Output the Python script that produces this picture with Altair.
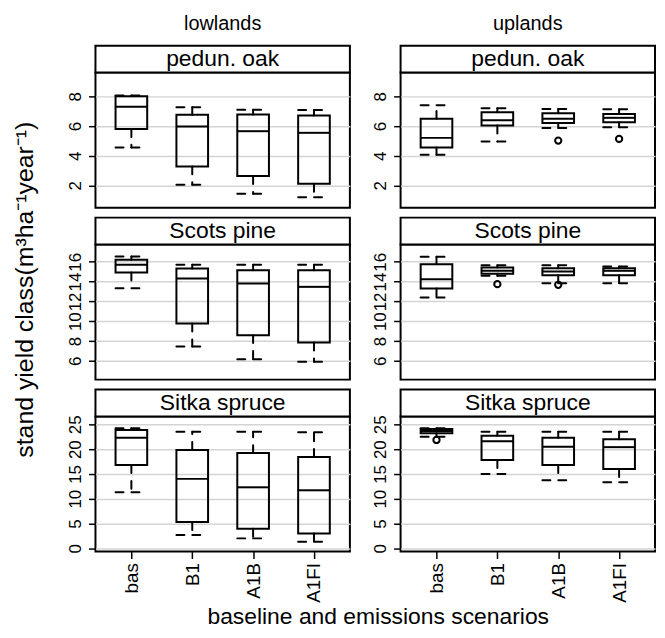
import altair as alt
import pandas as pd

FONT = "Liberation Sans"

scenarios = ["bas", "B1", "A1B", "A1FI"]
sites = ["lowlands", "uplands"]
species = ["pedun. oak", "Scots pine", "Sitka spruce"]

# [lower whisker, Q1, median, Q3, upper whisker] for bas, B1, A1B, A1FI
oak_lowlands = [[4.55, 5.8, 7.3, 8.0, 8.05], [2.05, 3.28, 5.96, 6.75, 7.26],
                [1.44, 2.63, 5.65, 6.77, 7.1], [1.2, 2.11, 5.54, 6.7, 7.08]]
oak_uplands = [[4.06, 4.55, 5.2, 6.48, 7.4], [4.95, 6.03, 6.38, 6.93, 7.2],
               [5.87, 6.2, 6.48, 6.86, 7.15], [5.92, 6.25, 6.55, 6.81, 7.12]]
pine_lowlands = [[13.33, 14.92, 15.7, 16.2, 16.54], [7.44, 9.77, 14.31, 15.32, 15.7],
                 [6.16, 8.59, 13.81, 15.15, 15.7], [5.9, 7.85, 13.47, 15.15, 15.7]]
pine_uplands = [[12.39, 13.3, 14.24, 15.76, 16.52], [14.59, 14.8, 15.09, 15.42, 15.66],
                [13.84, 14.65, 15.02, 15.35, 15.66], [13.84, 14.65, 15.09, 15.35, 15.52]]
spruce_lowlands = [[11.3, 16.8, 22.3, 23.85, 24.2], [2.7, 5.3, 14.0, 19.84, 23.5],
                   [2.0, 3.95, 12.3, 19.2, 23.5], [1.34, 3.0, 11.7, 18.4, 23.4]]
spruce_uplands = [[22.5, 23.2, 23.65, 24.05, 24.2], [15.0, 17.8, 21.6, 22.7, 23.5],
                  [13.7, 16.8, 20.5, 22.3, 23.5], [13.3, 16.0, 20.4, 22.0, 23.5]]

outlier_site = ["uplands", "uplands", "uplands", "uplands", "uplands"]
outlier_species = ["pedun. oak", "pedun. oak", "Scots pine", "Scots pine", "Sitka spruce"]
outlier_scenario = ["A1B", "A1FI", "B1", "A1B", "bas"]
outlier_value = [5.02, 5.13, 13.74, 13.68, 21.85]

y_domains = {"pedun. oak": [0.5, 9.6], "Scots pine": [4.1, 17.75], "Sitka spruce": [-0.66, 26.6]}
y_ticks = {"pedun. oak": [2, 4, 6, 8], "Scots pine": [6, 8, 10, 12, 14, 16],
           "Sitka spruce": [0, 5, 10, 15, 20, 25]}

summaries = {
    ("pedun. oak", "lowlands"): oak_lowlands, ("pedun. oak", "uplands"): oak_uplands,
    ("Scots pine", "lowlands"): pine_lowlands, ("Scots pine", "uplands"): pine_uplands,
    ("Sitka spruce", "lowlands"): spruce_lowlands, ("Sitka spruce", "uplands"): spruce_uplands,
}

W, H = 256, 136
STRIP = 27
HALF = 0.26
XLAB, YLAB = 19, 17

outliers = pd.DataFrame({"site": outlier_site, "species": outlier_species,
                         "scenario": outlier_scenario, "value": outlier_value})
outliers["pos"] = [scenarios.index(s) + 1 for s in outliers["scenario"]]

label_expr = "[" + ",".join("'%s'" % s for s in scenarios) + "][datum.value - 1]"


def panel(site, sp, r, c):
    d = pd.DataFrame(summaries[(sp, site)], columns=["lower", "q1", "median", "q3", "upper"])
    d["scenario"] = scenarios
    d["pos"] = [scenarios.index(s) + 1 for s in scenarios]
    xs = alt.Scale(domain=[0.41, 4.59], nice=False, zero=False)
    ys = alt.Scale(domain=y_domains[sp], nice=False, zero=False)

    if r == 2:
        xaxis_kw = dict(values=[1, 2, 3, 4], labelExpr=label_expr, labelAngle=270,
                        labelAlign="right", labelBaseline="middle", labelPadding=4,
                        labelFontSize=XLAB, tickSize=7, tickWidth=1.5, grid=False,
                        labelOverlap=False, labelFlush=False)
        if c == 0:
            xaxis = alt.Axis(title="baseline and emissions scenarios",
                             titleFontSize=23, titleFontWeight="normal",
                             titleX=284, titleY=72, titleAlign="center",
                             titleBaseline="alphabetic", **xaxis_kw)
        else:
            xaxis = alt.Axis(title=" ", titleFontSize=2, **xaxis_kw)
    else:
        xaxis = None

    yaxis_kw = dict(values=y_ticks[sp], grid=True, labelAngle=270, labelAlign="center",
                    labelBaseline="alphabetic", labelPadding=8, labelFontSize=YLAB,
                    tickSize=7, tickWidth=1.5, labelOverlap=False, labelFlush=False,
                    labelBound=False)
    if r == 1 and c == 0:
        yaxis = alt.Axis(title="stand yield class(m³ha⁻¹year⁻¹)", titleFontSize=25,
                         titleFontWeight="normal", titleAngle=270, titleX=-71, titleY=45,
                         titleAlign="center", titleBaseline="middle", **yaxis_kw)
    else:
        yaxis = alt.Axis(title=" ", titleFontSize=2, **yaxis_kw)

    def X(field):
        if xaxis is None:
            return alt.X(field, scale=xs, axis=None)
        return alt.X(field, scale=xs, axis=xaxis)

    def Y(field):
        return alt.Y(field, scale=ys, axis=yaxis)

    base = alt.Chart(d).transform_calculate(
        xl="datum.pos - %s" % HALF, xr="datum.pos + %s" % HALF)

    box = base.mark_rect(fill="transparent", stroke="black", strokeWidth=2).encode(
        x=X("xl:Q"), x2="xr:Q", y=Y("q1:Q"), y2="q3:Q")
    med = base.mark_rule(color="black", strokeWidth=2).encode(
        x=X("xl:Q"), x2="xr:Q", y=Y("median:Q"))
    dash = dict(color="black", strokeWidth=2, strokeDash=[8, 8], strokeCap="round")
    wlo = base.mark_rule(**dash).encode(x=X("pos:Q"), y=Y("q1:Q"), y2="lower:Q")
    whi = base.mark_rule(**dash).encode(x=X("pos:Q"), y=Y("q3:Q"), y2="upper:Q")
    clo = base.mark_rule(**dash).encode(x=X("xl:Q"), x2="xr:Q", y=Y("lower:Q"))
    chi = base.mark_rule(**dash).encode(x=X("xl:Q"), x2="xr:Q", y=Y("upper:Q"))

    layers = [box, med, wlo, whi, clo, chi]

    o = outliers[(outliers["site"] == site) & (outliers["species"] == sp)]
    if len(o):
        pts = alt.Chart(o).mark_point(shape="circle", filled=False, color="black",
                                      strokeWidth=2, size=40, opacity=1).encode(
            x=X("pos:Q"), y=Y("value:Q"))
        layers.append(pts)

    sd = pd.DataFrame({"label": [sp], "site": [site]})
    strip = alt.Chart(sd).mark_rect(fill="white", stroke="black", strokeWidth=2).encode(
        x=alt.value(0), x2=alt.value(W), y=alt.value(-STRIP), y2=alt.value(0))
    stext = alt.Chart(sd).mark_text(font=FONT, fontSize=23, color="black",
                                    baseline="middle", align="center").encode(
        x=alt.value(W / 2), y=alt.value(-STRIP / 2), text="label:N")
    layers += [strip, stext]
    if r == 0:
        htext = alt.Chart(sd).mark_text(font=FONT, fontSize=20, color="black",
                                        baseline="alphabetic", align="center").encode(
            x=alt.value(W / 2), y=alt.value(-43), text="site:N")
        layers.append(htext)

    return alt.layer(*layers).properties(width=W, height=H)


panels = []
for r, sp in enumerate(species):
    for c, site in enumerate(sites):
        panels.append(panel(site, sp, r, c))

chart = alt.concat(*panels, columns=2, spacing={"row": 37, "column": 51},
                   bounds="flush").properties(
    padding={"left": 3, "top": 3, "right": 0, "bottom": 0}
).configure_view(
    stroke="black", strokeWidth=2
).configure_axis(
    labelFont=FONT, titleFont=FONT, labelColor="black", titleColor="black",
    tickColor="black", domain=False, gridColor="#d4d4d4", gridWidth=1.5
).configure_axisX(labelFontSize=XLAB).configure_axisY(labelFontSize=YLAB)

chart.save("out.html", embed_options={"renderer": "svg", "actions": False})
